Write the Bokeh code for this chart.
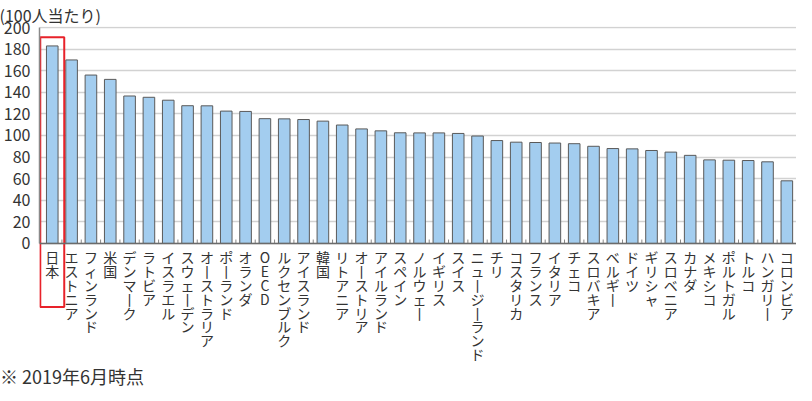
from bokeh.plotting import figure
from bokeh.models import Range1d, FixedTicker, Span, ColumnDataSource, Div
from bokeh.layouts import column
from bokeh.core.properties import value
from bokeh.embed import file_html
from bokeh.resources import INLINE

countries = ["日本", "エストニア", "フィンランド", "米国", "デンマーク", "ラトビア", "イスラエル",
             "スウェーデン", "オーストラリア", "ポーランド", "オランダ", "OECD", "ルクセンブルク",
             "アイスランド", "韓国", "リトアニア", "オーストリア", "アイルランド", "スペイン",
             "ノルウェー", "イギリス", "スイス", "ニュージーランド", "チリ", "コスタリカ", "フランス",
             "イタリア", "チェコ", "スロバキア", "ベルギー", "ドイツ", "ギリシャ", "スロベニア",
             "カナダ", "メキシコ", "ポルトガル", "トルコ", "ハンガリー", "コロンビア"]
values = [183, 170, 156, 152, 136.6, 135.4, 132.7, 127.6, 127.5, 122.6, 122.3, 115.6, 115.4,
          114.8, 113.3, 109.7, 106.1, 104.3, 102.5, 102.4, 102.4, 101.9, 99.5, 95.3, 93.8, 93.5,
          93.0, 92.4, 90.0, 87.9, 87.6, 86.1, 84.6, 81.6, 77.4, 77.1, 76.8, 75.6, 58.0]
y_ticks = [0, 20, 40, 60, 80, 100, 120, 140, 160, 180, 200]
unit_label = "(100人当たり)"
note = "※ 2019年6月時点"
highlight = "日本"

FONT = "Noto Sans CJK JP"
n = len(countries)
xs = list(range(n))

def vertical(s):
    return "\n".join(ch.replace("ー", "丨") for ch in s)

src = ColumnDataSource(dict(x=xs, top=values, label=[vertical(c) for c in countries]))

p = figure(width=796, height=367, x_range=Range1d(-0.66, n - 0.5), y_range=Range1d(-115.0, 201.0),
           output_backend="svg", toolbar_location=None, x_axis_location=None,
           min_border_left=26, min_border_right=0, min_border_top=0, min_border_bottom=0)
p.outline_line_color = None
p.background_fill_color = "white"
p.border_fill_color = "white"

p.title.text = unit_label
p.title.align = "left"
p.title.offset = -40
p.title.text_font = FONT
p.title.text_font_size = "16px"
p.title.text_font_style = "normal"
p.title.text_color = "#333333"
p.title.standoff = 0

tk = FixedTicker(ticks=y_ticks, minor_ticks=[])
p.yaxis.ticker = tk
p.yaxis.bounds = (0, 200)
p.yaxis.axis_line_color = "#8a8a8a"
p.yaxis.axis_line_width = 1.5
p.yaxis.major_tick_line_color = None
p.yaxis.minor_tick_line_color = None
p.yaxis.major_label_text_font = FONT
p.yaxis.major_label_text_font_size = "16px"
p.yaxis.major_label_text_color = "#333333"
p.yaxis.major_label_standoff = 3

p.ygrid.ticker = tk
p.ygrid.grid_line_color = "#d2d2d2"
p.ygrid.grid_line_width = 1.5
p.xgrid.grid_line_color = None

p.vbar(x="x", top="top", width=0.6, bottom=0, source=src,
       fill_color="#a3cdef", line_color="#5a5a5a", line_width=1)

p.add_layout(Span(location=0, dimension="width", line_color="#6b6b6b", line_width=1.5))

bx = [i + 0.5 for i in range(n)]
p.segment(x0=bx, x1=bx, y0=[0] * n, y1=[3.6] * n, line_color="#888888", line_width=1)

p.text(x="x", y=0, text="label", source=src, y_offset=4, text_align="center",
       text_baseline="top", text_font=value(FONT), text_font_size="14px",
       text_line_height=0.69, text_color="#333333")

hi = countries.index(highlight)
p.quad(left=[hi - 0.62], right=[hi + 0.62], top=[191], bottom=[-59],
       fill_color=None, line_color="#e8222a", line_width=2)

foot = Div(text=note, width=796, height=18, margin=(0, 0, 0, 0),
           styles={"font-family": FONT, "font-size": "18px", "color": "#333333",
                   "line-height": "18px", "white-space": "nowrap"})

open("out.html", "w").write(file_html(column(p, foot, spacing=0), INLINE))
